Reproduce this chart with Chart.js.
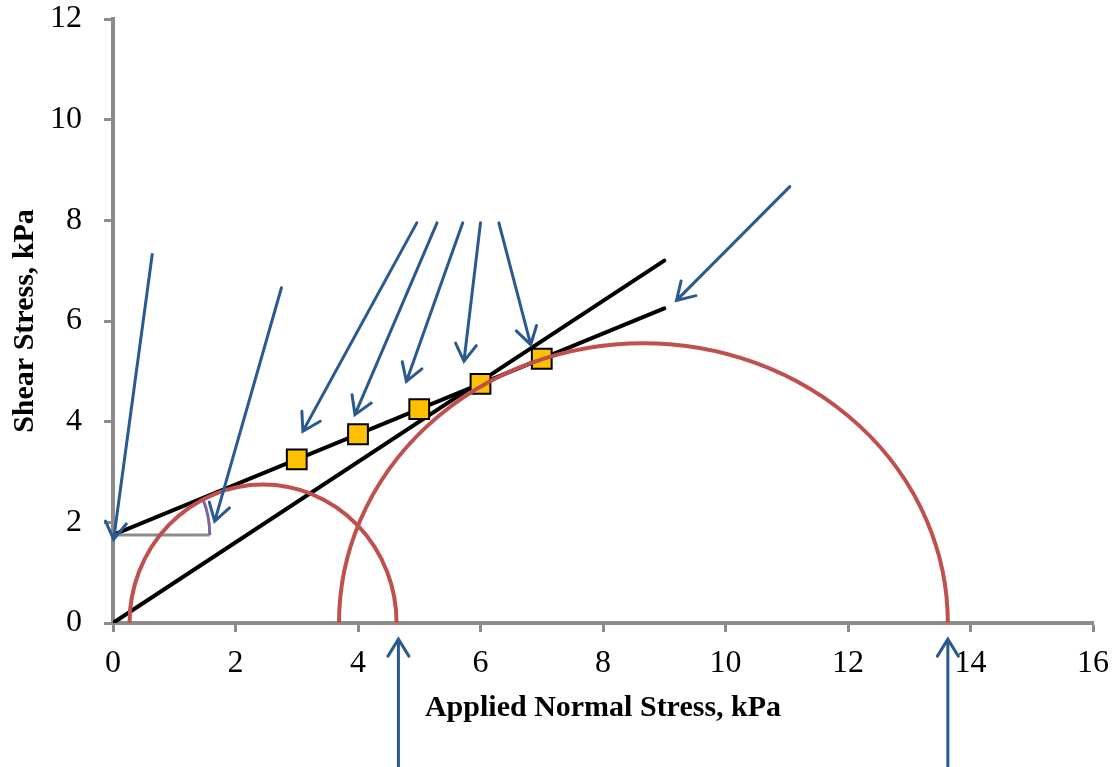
<!DOCTYPE html>
<html>
<head>
<meta charset="utf-8">
<script src="https://cdn.jsdelivr.net/npm/chart.js@4"></script>
<style>
  html, body { margin: 0; padding: 0; background: #fff; }
  #wrap { width: 1118px; height: 767px; }
</style>
</head>
<body>
<div id="wrap"><canvas id="chart" width="1118" height="767"></canvas></div>
<script>
// test points (normal stress, shear stress)
var testStress = [3, 4, 5, 6, 7];
var testShear = [3.25, 3.75, 4.25, 4.75, 5.25];

// two failure envelopes, end points
var envelopeX = [0, 9];
var envelopeA = [1.75, 6.25];
var envelopeB = [0, 7.2];

// Mohr circles: centre, half width, height (kPa)
var circleCentre = [2.45, 8.66];
var circleRx = [2.18, 4.97];
var circleRy = [2.75, 5.56];

// friction angle marker: cohesion level and arm length
var cohesion = 1.75;
var angleArm = 1.58;

// annotation arrows [x0, y0, x1, y1] in data units, tip at x1,y1
var arrows = [
  [0.64, 7.32, 0.01, 1.66],
  [2.75, 6.66, 1.66, 2.02],
  [4.96, 7.95, 3.10, 3.81],
  [5.29, 7.95, 3.95, 4.14],
  [5.71, 7.95, 4.79, 4.80],
  [6.00, 7.95, 5.73, 5.20],
  [6.30, 7.95, 6.82, 5.53],
  [11.05, 8.67, 9.20, 6.41],
  [4.66, -2.85, 4.66, -0.32],
  [13.63, -2.85, 13.63, -0.32]
];

var xTicks = [0, 2, 4, 6, 8, 10, 12, 14, 16];
var yTicks = [0, 2, 4, 6, 8, 10, 12];

function pts(xs, ys) {
  var out = [];
  for (var i = 0; i < xs.length; i++) out.push({x: xs[i], y: ys[i]});
  return out;
}

// draws circles, angle marker and arrows on top of the datasets
var extrasPlugin = {
  id: 'extras',
  afterDatasetsDraw: function(chart) {
    var ctx = chart.ctx;
    var xs = chart.scales.x, ys = chart.scales.y;
    ctx.save();

    // angle marker
    var ox = xs.getPixelForValue(0), oy = ys.getPixelForValue(cohesion);
    var ex = xs.getPixelForValue(angleArm);
    ctx.strokeStyle = '#8c8c8c';
    ctx.lineWidth = 3;
    ctx.beginPath();
    ctx.moveTo(ox, oy);
    ctx.lineTo(ex, oy);
    ctx.stroke();
    var p2x = xs.getPixelForValue(envelopeX[1]), p2y = ys.getPixelForValue(envelopeA[1]);
    var ang = Math.atan2(p2y - oy, p2x - ox);
    ctx.strokeStyle = '#8064a2';
    ctx.beginPath();
    ctx.arc(ox, oy, ex - ox, ang, 0);
    ctx.stroke();

    // Mohr circles
    ctx.strokeStyle = '#c0504d';
    ctx.lineWidth = 4;
    for (var i = 0; i < circleCentre.length; i++) {
      var cx = xs.getPixelForValue(circleCentre[i]);
      var cy = ys.getPixelForValue(0);
      var rx = xs.getPixelForValue(circleCentre[i] + circleRx[i]) - cx;
      var ry = cy - ys.getPixelForValue(circleRy[i]);
      ctx.beginPath();
      ctx.ellipse(cx, cy, rx, ry, 0, Math.PI, 2 * Math.PI);
      ctx.stroke();
    }

    // arrows
    ctx.strokeStyle = '#2a5a8f';
    ctx.lineWidth = 3;
    ctx.lineCap = 'round';
    arrows.forEach(function(a) {
      var x0 = xs.getPixelForValue(a[0]), y0 = ys.getPixelForValue(a[1]);
      var x1 = xs.getPixelForValue(a[2]), y1 = ys.getPixelForValue(a[3]);
      var t = Math.atan2(y1 - y0, x1 - x0);
      var len = 20, spread = 0.55;
      ctx.beginPath();
      ctx.moveTo(x0, y0);
      ctx.lineTo(x1, y1);
      ctx.moveTo(x1 - len * Math.cos(t - spread), y1 - len * Math.sin(t - spread));
      ctx.lineTo(x1, y1);
      ctx.lineTo(x1 - len * Math.cos(t + spread), y1 - len * Math.sin(t + spread));
      ctx.stroke();
    });
    ctx.restore();
  }
};

var tickFont = {family: 'Liberation Serif', size: 32};
var titleFont = {family: 'Liberation Serif', size: 30, weight: 'bold'};

new Chart(document.getElementById('chart'), {
  type: 'line',
  data: {
    datasets: [
      {
        label: 'Tests',
        data: pts(testStress, testShear),
        showLine: false,
        pointStyle: 'rect',
        pointRadius: 14,
        pointBackgroundColor: '#ffc000',
        pointBorderColor: '#000',
        pointBorderWidth: 2,
        order: 0
      },
      {
        label: 'Envelope A',
        data: pts(envelopeX, envelopeA),
        borderColor: '#000',
        borderWidth: 4,
        pointRadius: 0,
        borderCapStyle: 'round',
        order: 1
      },
      {
        label: 'Envelope B',
        data: pts(envelopeX, envelopeB),
        borderColor: '#000',
        borderWidth: 4,
        pointRadius: 0,
        borderCapStyle: 'round',
        order: 2
      }
    ]
  },
  options: {
    responsive: false,
    animation: false,
    layout: {padding: {left: 0, top: 19, right: 25, bottom: 0}},
    plugins: {legend: {display: false}, tooltip: {enabled: false}},
    scales: {
      x: {
        type: 'linear',
        min: 0,
        max: 16,
        afterFit: function(s) { s.height = 144; s.paddingLeft = 0; s.paddingRight = 0; },
        afterBuildTicks: function(s) { s.ticks = xTicks.map(function(v) { return {value: v}; }); },
        grid: {drawOnChartArea: false, drawTicks: true, tickLength: 9, tickColor: '#8c8c8c', tickWidth: 3},
        border: {color: '#8c8c8c', width: 4},
        ticks: {color: '#000', font: tickFont, padding: 12, maxRotation: 0},
        title: {display: true, text: 'Applied Normal Stress, kPa', color: '#000', font: titleFont, padding: {top: 0, bottom: 41}}
      },
      y: {
        type: 'linear',
        min: 0,
        max: 12,
        afterFit: function(s) { s.width = 113; s.paddingTop = 0; s.paddingBottom = 0; },
        afterBuildTicks: function(s) { s.ticks = yTicks.map(function(v) { return {value: v}; }); },
        grid: {drawOnChartArea: false, drawTicks: true, tickLength: 9, tickColor: '#8c8c8c', tickWidth: 3},
        border: {color: '#8c8c8c', width: 4},
        ticks: {color: '#000', font: tickFont, padding: 22},
        title: {display: true, text: 'Shear Stress, kPa', color: '#000', font: titleFont, padding: {top: 7, bottom: 0}}
      }
    }
  },
  plugins: [extrasPlugin]
});
</script>
</body>
</html>
